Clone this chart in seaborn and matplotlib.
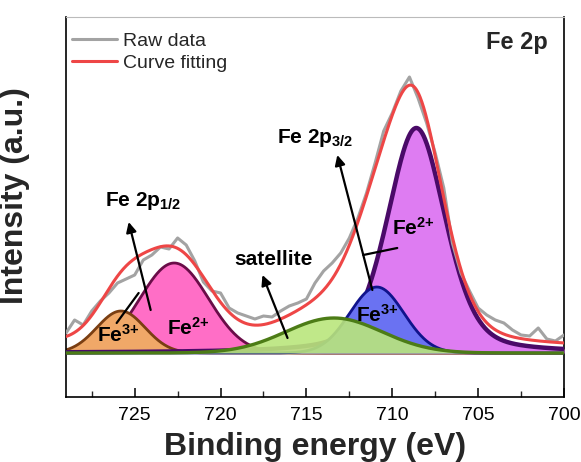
import numpy as np
import pandas as pd
import matplotlib
matplotlib.use("Agg")
import matplotlib.pyplot as plt
from matplotlib.ticker import MultipleLocator
import seaborn as sns

# ---------------- data ----------------
raw_energy = [729.0, 728.5, 728.0, 727.5, 727.0, 726.5, 726.0, 725.5, 725.0, 724.5,
              724.0, 723.5, 723.0, 722.5, 722.0, 721.5, 721.0, 720.5, 720.0, 719.5,
              719.0, 718.5, 718.0, 717.5, 717.0, 716.5, 716.0, 715.5, 715.0, 714.5,
              714.0, 713.5, 713.0, 712.5, 712.0, 711.5, 711.0, 710.5, 710.0, 709.5,
              709.0, 708.5, 708.0, 707.5, 707.0, 706.5, 706.0, 705.5, 705.0, 704.5,
              704.0, 703.5, 703.0, 702.5, 702.0, 701.5, 701.0, 700.5, 700.0]
raw_intensity = [20, 33, 28, 42, 52, 60, 70, 74, 78, 93,
                 98, 106, 104, 115, 108, 92, 71, 62, 60, 45,
                 40, 37, 34, 37, 36, 42, 47, 50, 54, 70,
                 82, 90, 100, 115, 135, 160, 190, 222, 240, 262,
                 276, 255, 230, 200, 165, 110, 80, 62, 45, 38,
                 33, 30, 23, 18, 17, 25, 14, 12, 18]

# fitted components (pseudo-Voigt parameters)
comp_names = ["Fe2+ 2p1/2", "Fe3+ 2p1/2", "Fe2+ 2p3/2", "Fe3+ 2p3/2", "satellite"]
comp_center = [722.7, 725.8, 708.6, 710.9, 713.4]
comp_height = [90, 42, 225, 66, 35]
comp_fwhm = [4.7, 3.3, 4.0, 3.7, 6.6]
comp_eta = [0.0, 0.0, 0.35, 0.0, 0.0]
comp_fill = ["#FF6EC6", "#F0A868", "#DE7CF2", "#6A72F2", "#BAE67C"]
comp_edge = ["#6A0C48", "#7A3E12", "#4A0A68", "#10138C", "#4C7C16"]
comp_alpha = [1.0, 1.0, 1.0, 1.0, 0.9]
comp_lw = [2.0, 2.0, 3.2, 2.0, 2.4]

# background of the fit (low / high binding-energy end)
bg_low_be, bg_high_be = 6.0, 12.0

# ---------------- model curves ----------------
x = np.linspace(729, 700, 800)


def pseudo_voigt(e, c, h, f, eta):
    g = np.exp(-4 * np.log(2) * ((e - c) / f) ** 2)
    l = 1.0 / (1 + 4 * ((e - c) / f) ** 2)
    return h * ((1 - eta) * g + eta * l)


comps = [pseudo_voigt(x, c, h, f, et) for c, h, f, et in
         zip(comp_center, comp_height, comp_fwhm, comp_eta)]
background = bg_low_be + (bg_high_be - bg_low_be) * (x - 700) / 29.0
fit = np.sum(comps, axis=0) + background

# ---------------- figure ----------------
sns.set_theme(style="white")
plt.rcParams["font.family"] = ["Liberation Sans", "DejaVu Sans"]
plt.rcParams["mathtext.fontset"] = "custom"
plt.rcParams["mathtext.rm"] = "Liberation Sans"
plt.rcParams["mathtext.bf"] = "Liberation Sans:bold"
plt.rcParams["mathtext.it"] = "Liberation Sans:italic"

fig = plt.figure(figsize=(5.81, 4.62), dpi=100)
ax = fig.add_axes([66 / 581, 65 / 462, 498 / 581, 380 / 462])

zorders = [1, 2, 3, 4, 5]
for yv, fc, ec, a, lw, z in zip(comps, comp_fill, comp_edge, comp_alpha, comp_lw, zorders):
    ax.fill_between(x, 0, yv, color=fc, alpha=a, lw=0, zorder=z)
    sns.lineplot(x=x, y=yv, color=ec, lw=lw, ax=ax, zorder=z + 0.5, sort=False)

df_raw = pd.DataFrame({"energy": raw_energy, "intensity": raw_intensity})
df_fit = pd.DataFrame({"energy": x, "intensity": fit})
sns.lineplot(data=df_raw, x="energy", y="intensity", color="#A3A3A3", lw=2.2,
             label="Raw data", ax=ax, zorder=6, sort=False)
sns.lineplot(data=df_fit, x="energy", y="intensity", color="#EE4646", lw=2.2,
             label="Curve fitting", ax=ax, zorder=7, sort=False)

ax.set_xlim(729, 700)
ax.set_ylim(-44, 336)
ax.set_yticks([])
ax.set_xticks([725, 720, 715, 710, 705, 700])
ax.xaxis.set_minor_locator(MultipleLocator(2.5))
ax.tick_params(axis="x", which="major", direction="in", length=6.5, width=1.1,
               labelsize=14, pad=7, bottom=True, top=False, colors="black")
ax.tick_params(axis="x", which="minor", direction="in", length=4, width=1.0,
               bottom=True, top=False)
for s in ["left", "right", "bottom"]:
    ax.spines[s].set_color("black")
    ax.spines[s].set_linewidth(1.2)
ax.spines["top"].set_color("#BBBBBB")
ax.spines["top"].set_linewidth(0.8)

ax.set_xlabel("Binding energy (eV)", fontsize=23, fontweight="bold", labelpad=6)
ax.set_ylabel("Intensity (a.u.)", fontsize=23, fontweight="bold")
ax.yaxis.set_label_coords(-0.072, 0.53)

leg = ax.legend(loc="upper left", bbox_to_anchor=(0.008, 0.965), frameon=False,
                fontsize=14, handlelength=2.3, handletextpad=0.35,
                labelspacing=0.22, borderaxespad=0.0, borderpad=0.1)

# ---------------- annotations ----------------
ak = dict(arrowstyle="-|>", color="black", lw=1.6, mutation_scale=15,
          shrinkA=0, shrinkB=0)
ax.annotate("", xy=(725.35, 131), xytext=(724.07, 43), arrowprops=ak, zorder=9)
ax.plot([726.05, 724.77], [30, 60], color="black", lw=1.6, zorder=9)
ax.annotate("", xy=(713.2, 198), xytext=(711.16, 63), arrowprops=ak, zorder=9)
ax.plot([711.69, 709.71], [98, 105], color="black", lw=1.6, zorder=9)
ax.annotate("", xy=(717.56, 78), xytext=(716.1, 15), arrowprops=ak, zorder=9)

tk = dict(fontsize=15, color="black", zorder=10)
ax.text(726.75, 147, r"$\mathbf{Fe\ 2p_{1/2}}$", ha="left", va="baseline", **tk)
ax.text(716.7, 210, r"$\mathbf{Fe\ 2p_{3/2}}$", ha="left", va="baseline", **tk)
ax.text(716.9, 88, "satellite", ha="center", va="baseline", fontweight="bold", **tk)
ax.text(725.96, 11, r"$\mathbf{Fe^{3{+}}}$", ha="center", va="baseline", **tk)
ax.text(721.9, 18, r"$\mathbf{Fe^{2{+}}}$", ha="center", va="baseline", **tk)
ax.text(710.87, 31, r"$\mathbf{Fe^{3{+}}}$", ha="center", va="baseline", **tk)
ax.text(708.78, 118, r"$\mathbf{Fe^{2{+}}}$", ha="center", va="baseline", **tk)
ax.text(700.93, 304, "Fe 2p", ha="right", va="baseline", fontsize=17,
        fontweight="bold", zorder=10)

fig.savefig("out.png", dpi=100)
